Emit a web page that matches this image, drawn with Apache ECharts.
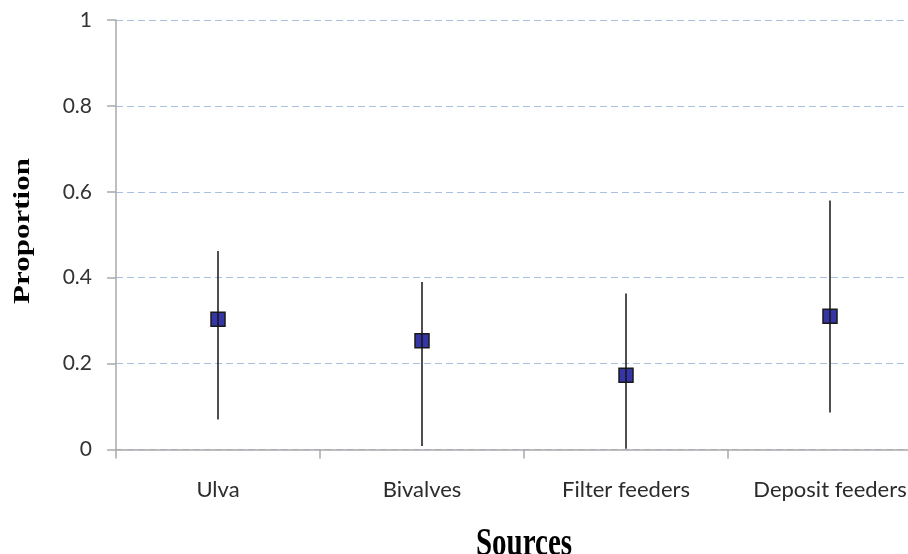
<!DOCTYPE html>
<html>
<head>
<meta charset="utf-8">
<title>Proportion by source</title>
<script src="https://cdn.jsdelivr.net/npm/echarts@6/dist/echarts.min.js"></script>
<style>
  html, body { margin: 0; padding: 0; background: #ffffff; }
  #chart { width: 908px; height: 554px; }
</style>
</head>
<body>
<div id="chart"></div>
<script>
// Source categories and the estimated proportion (median with lower/upper bounds)
const sources = ['Ulva', 'Bivalves', 'Filter feeders', 'Deposit feeders'];
const medianValues = [0.303, 0.253, 0.173, 0.310];
const lowerValues = [0.070, 0.008, 0.002, 0.086];
const upperValues = [0.462, 0.390, 0.363, 0.580];
const yTickLabels = ['0', '0.2', '0.4', '0.6', '0.8', '1'];

const chart = echarts.init(document.getElementById('chart'), null, { renderer: 'canvas' });

const rangeData = sources.map((s, i) => [i, lowerValues[i], upperValues[i]]);
const pointData = sources.map((s, i) => [i, medianValues[i]]);

const axisGray = '#a9a9a9';

const option = {
  animation: false,
  backgroundColor: '#ffffff',
  // the plot area runs a little past the right edge of the canvas
  grid: {
    left: 116, top: 20, width: 816, height: 429.5,
    containLabel: false,
    outerBoundsMode: 'none'
  },
  xAxis: {
    type: 'category',
    data: sources,
    boundaryGap: true,
    axisLine: { show: true, lineStyle: { color: axisGray, width: 1.5 } },
    axisTick: { show: true, interval: 0, alignWithLabel: false, length: 9, lineStyle: { color: axisGray, width: 1.5 } },
    axisLabel: {
      interval: 0,
      hideOverlap: false,
      margin: 29,
      color: '#2b2b2b',
      fontFamily: 'Lato, "Open Sans", sans-serif',
      fontSize: 22
    },
    splitLine: { show: false }
  },
  yAxis: {
    type: 'value',
    min: 0,
    max: 1,
    interval: 0.2,
    axisLine: { show: true, lineStyle: { color: axisGray, width: 1.5 } },
    axisTick: { show: true, inside: false, length: 9, lineStyle: { color: axisGray, width: 1.5 } },
    axisLabel: {
      margin: 24,
      color: '#333333',
      fontFamily: 'Lato, "Open Sans", sans-serif',
      fontSize: 21,
      formatter: (v) => yTickLabels[Math.round(v / 0.2)]
    },
    splitLine: {
      show: true,
      lineStyle: { color: '#a9c1e0', width: 1.2, type: [7, 4] }
    }
  },
  graphic: [
    {
      type: 'text',
      x: 23,
      y: 231,
      rotation: Math.PI / 2,
      scaleX: 1.35,
      style: {
        text: 'Proportion',
        fill: '#000000',
        font: 'bold 23px "Liberation Serif", "Times New Roman", serif',
        align: 'center',
        verticalAlign: 'middle'
      }
    },
    {
      type: 'text',
      x: 524,
      y: 545,
      scaleY: 1.35,
      style: {
        text: 'Sources',
        fill: '#000000',
        font: 'bold 29px "Liberation Serif", "Times New Roman", serif',
        align: 'center',
        verticalAlign: 'middle'
      }
    }
  ],
  series: [
    {
      name: 'Median',
      type: 'scatter',
      data: pointData,
      symbol: 'rect',
      symbolSize: 14,
      itemStyle: { color: '#3535a6', borderColor: '#1a1a1a', borderWidth: 1.5, opacity: 1 },
      z: 2
    },
    {
      name: 'Range',
      type: 'custom',
      data: rangeData,
      z: 3,
      renderItem: function (params, api) {
        const x = api.value(0);
        const lo = api.coord([x, api.value(1)]);
        const hi = api.coord([x, api.value(2)]);
        return {
          type: 'line',
          shape: { x1: lo[0], y1: lo[1], x2: hi[0], y2: hi[1] },
          style: { stroke: '#141414', lineWidth: 1.5 }
        };
      }
    }
  ]
};

chart.setOption(option);
</script>
</body>
</html>
